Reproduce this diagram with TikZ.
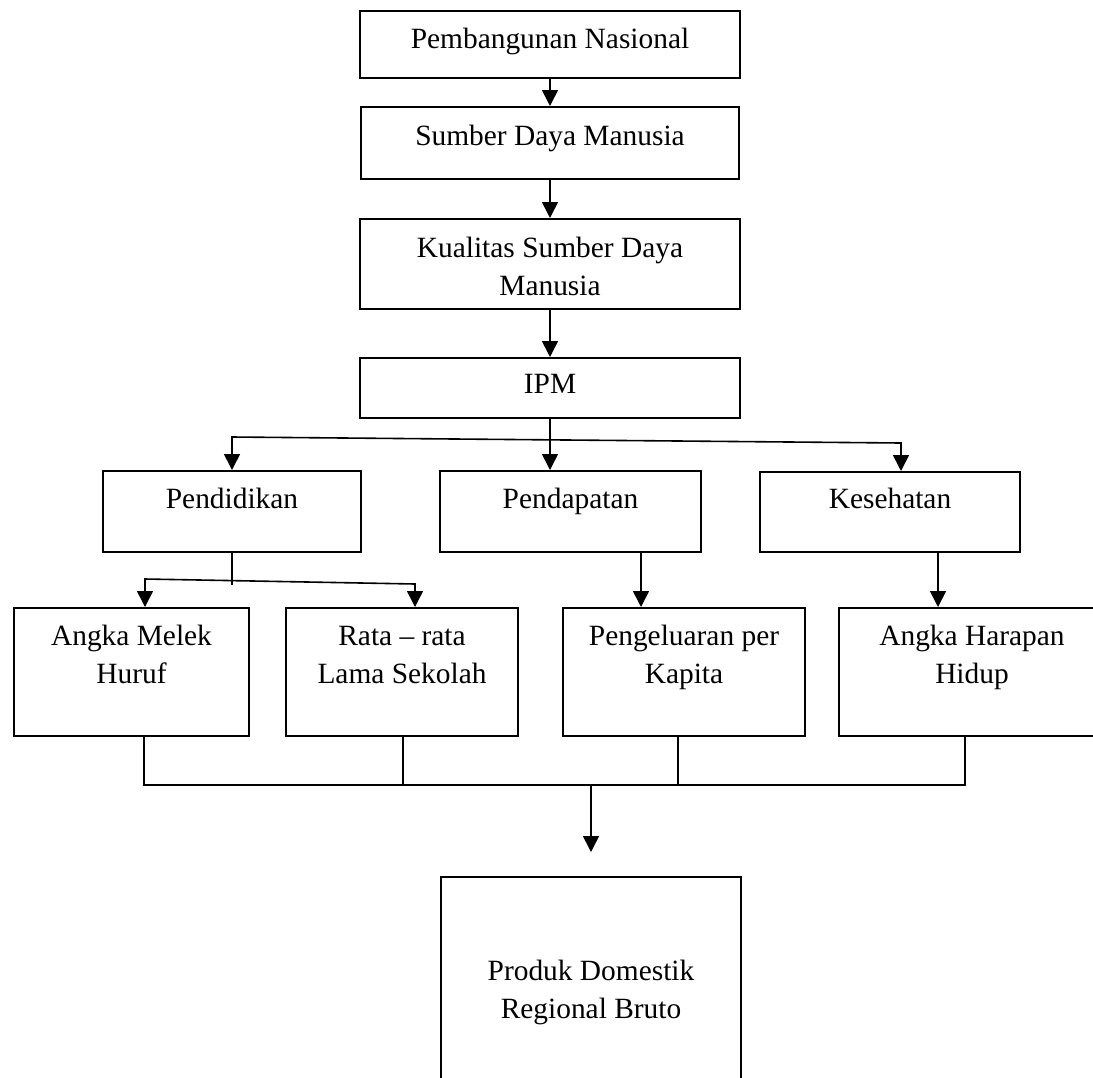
\documentclass[tikz,border=0pt]{standalone}
\usepackage{fontspec}
\setmainfont{Liberation Serif}
\usetikzlibrary{arrows.meta}

\begin{document}
\begin{tikzpicture}
[
    x=1pt, y=-1pt,
    every node/.style={font=\fontsize{29.4}{38.5}\selectfont},
    box/.style={draw, line width=1.6pt, inner sep=0pt, align=center, anchor=north},
    link/.style={line width=1.6pt, -{Triangle[length=16pt,width=16pt]}},
    fork/.style={line width=1.6pt, {Triangle[length=16pt,width=16pt]}-{Triangle[length=16pt,width=16pt]}},
    merge/.style={line width=1.2pt}
]
    \useasboundingbox (0,0) rectangle (1093,1077);

    % upper chain
    \node [box, minimum width=380pt, text height=38pt, text depth=29pt] (pn) at (550,10) {Pembangunan Nasional};
    \node [box, minimum width=378pt, text height=39pt, text depth=33pt] (sdm) at (550,106) {Sumber Daya Manusia};
    \node [box, minimum width=380pt, text height=77pt, text depth=13pt] (ksdm) at (550,218) {Kualitas Sumber Daya\\Manusia};
    \node [box, minimum width=380pt, text height=36pt, text depth=24pt] (ipm) at (550,357) {IPM};

    % dimensions
    \node [box, minimum width=258pt, text height=38pt, text depth=43pt] (pdd) at (232,470) {Pendidikan};
    \node [box, minimum width=261pt, text height=38pt, text depth=43pt] (pdp) at (570.5,470) {Pendapatan};
    \node [box, minimum width=260pt, text height=37pt, text depth=43pt] (kes) at (890,471) {Kesehatan};

    % indicators
    \node [box, minimum width=235pt, text height=76pt, text depth=52pt] (amh) at (131.5,607) {Angka Melek\\Huruf};
    \node [box, minimum width=232pt, text height=76pt, text depth=52pt] (rls) at (402,607) {Rata -- rata\\Lama Sekolah};
    \node [box, minimum width=242pt, text height=76pt, text depth=52pt] (ppk) at (684,607) {Pengeluaran per\\Kapita};
    \node [box, minimum width=266pt, text height=76pt, text depth=52pt] (ahh) at (972,607) {Angka Harapan\\Hidup};

    % result
    \node [box, minimum width=300pt, text height=142pt, text depth=82pt] (pdrb) at (591,876) {Produk Domestik\\Regional Bruto};

    \coordinate (fl) at (232,437);
    \coordinate (fr) at (901,443);
    \coordinate (gl) at (145,579);
    \coordinate (gr) at (415,584);
    \coordinate (gm) at (232,585);
    \coordinate (mj) at (591,785);
    \coordinate (tip) at (591,852);

    \draw [link] (pn) -- (sdm);
    \draw [link] (sdm) -- (ksdm);
    \draw [link] (ksdm) -- (ipm);
    \draw [link] (ipm.south) -- (ipm.south |- pdp.north);
    \draw [fork] (pdd.north) -- (fl) -- (fr) -- (fr |- kes.north);

    \draw [line width=1.6pt] (pdd) -- (gm);
    \draw [fork] (gl |- amh.north) -- (gl) -- (gr) -- (gr |- rls.north);
    \draw [link] ([xshift=70.5pt]pdp.south) -- ([xshift=70.5pt]pdp.south |- ppk.north);
    \draw [link] ([xshift=48pt]kes.south) -- ([xshift=48pt]kes.south |- ahh.north);

    \draw [merge] ([xshift=12.5pt]amh.south) |- (mj);
    \draw [merge] ([xshift=-7pt]ahh.south) |- (mj);
    \draw [merge] ([xshift=1pt]rls.south) -- ([xshift=1pt]rls.south |- mj);
    \draw [merge] ([xshift=-6pt]ppk.south) -- ([xshift=-6pt]ppk.south |- mj);
    \draw [link] (mj) -- (tip);
\end{tikzpicture}
\end{document}
